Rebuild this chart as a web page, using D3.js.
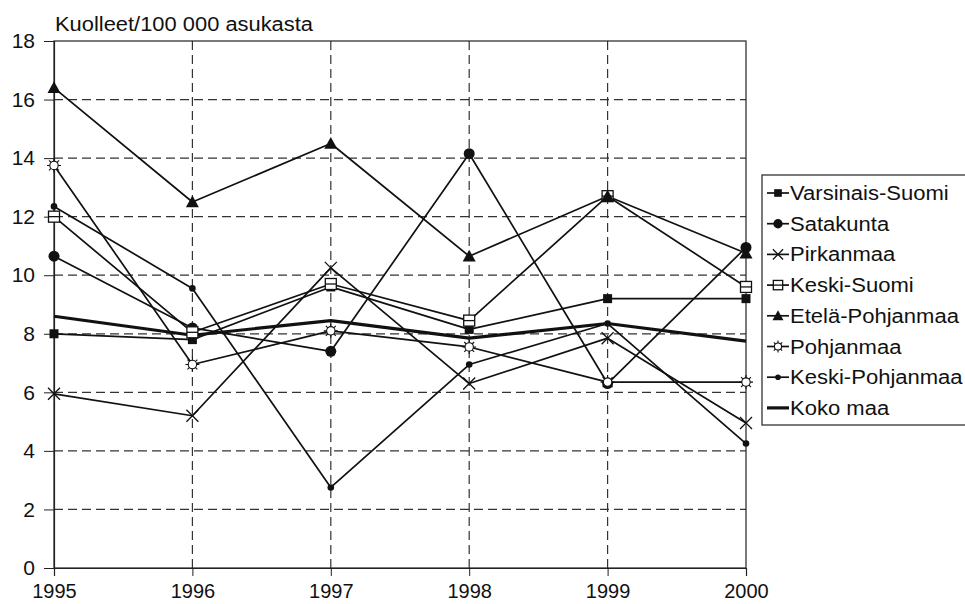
<!DOCTYPE html>
<html><head><meta charset="utf-8">
<script src="https://cdn.jsdelivr.net/npm/d3@7"></script>
<style>body{margin:0;background:#fff}svg{display:block;font-family:"Liberation Sans",Arial,sans-serif}</style>
</head><body><svg id="c" width="965" height="604"></svg>
<script>
const years = [1995, 1996, 1997, 1998, 1999, 2000];
const yTicks = [0, 2, 4, 6, 8, 10, 12, 14, 16, 18];
const yTitle = "Kuolleet/100 000 asukasta";
const seriesNames = ["Varsinais-Suomi", "Satakunta", "Pirkanmaa", "Keski-Suomi", "Etelä-Pohjanmaa", "Pohjanmaa", "Keski-Pohjanmaa", "Koko maa"];
const varsinaisSuomi = [8.0, 7.8, 9.6, 8.15, 9.2, 9.2];
const satakunta = [10.65, 8.2, 7.4, 14.15, 6.3, 10.95];
const pirkanmaa = [5.95, 5.2, 10.25, 6.3, 7.85, 4.95];
const keskiSuomi = [12.0, 8.05, 9.7, 8.45, 12.7, 9.6];
const etelaPohjanmaa = [16.4, 12.5, 14.5, 10.65, 12.7, 10.75];
const pohjanmaa = [13.75, 6.95, 8.1, 7.55, 6.35, 6.35];
const keskiPohjanmaa = [12.35, 9.55, 2.75, 6.95, 8.35, 4.25];
const kokoMaa = [8.6, 7.95, 8.45, 7.85, 8.35, 7.75];
const markers = ["square", "circle", "cross", "openSquare", "triangle", "sun", "dot", "none"];

const allValues = [varsinaisSuomi, satakunta, pirkanmaa, keskiSuomi, etelaPohjanmaa, pohjanmaa, keskiPohjanmaa, kokoMaa];
const series = seriesNames.map((n, i) => ({name: n, values: allValues[i], marker: markers[i]}));

const svg = d3.select("#c");
const L = 54, R = 746, T = 41, B = 568;
const x = d3.scalePoint().domain(years).range([L, R]);
const y = d3.scaleLinear().domain([0, 18]).range([B, T]);
const ink = "#111";

// grid
const g = svg.append("g");
g.selectAll(".hg").data(yTicks.filter(v => v > 0 && v < 18)).enter().append("line")
  .attr("x1", L).attr("x2", R).attr("y1", d => y(d)).attr("y2", d => y(d))
  .attr("stroke", "#333").attr("stroke-width", 1.2).attr("stroke-dasharray", "9,5");
g.selectAll(".vg").data(years.slice(1, -1)).enter().append("line")
  .attr("y1", T).attr("y2", B).attr("x1", d => x(d)).attr("x2", d => x(d))
  .attr("stroke", "#333").attr("stroke-width", 1.2).attr("stroke-dasharray", "9,5");
// frame
g.append("rect").attr("x", L).attr("y", T).attr("width", R - L).attr("height", B - T)
  .attr("fill", "none").attr("stroke", "#222").attr("stroke-width", 1.2);

// y axis
const ya = svg.append("g").attr("transform", `translate(${L},0)`)
  .call(d3.axisLeft(y).tickValues(yTicks).tickSize(10).tickPadding(9));
ya.select(".domain").attr("stroke", "#222").attr("stroke-width", 1.2);
ya.selectAll(".tick line").attr("stroke", "#222");
ya.selectAll("text").attr("font-size", 21).attr("fill", ink).attr("font-family", "Liberation Sans, Arial");

// x axis
const xa = svg.append("g").attr("transform", `translate(0,${B})`)
  .call(d3.axisBottom(x).tickSize(8).tickPadding(8).tickFormat(d3.format("d")));
xa.select(".domain").attr("stroke", "#222").attr("stroke-width", 1.2);
xa.selectAll(".tick line").attr("stroke", "#222");
xa.selectAll("text").attr("font-size", 20).attr("fill", ink).attr("font-family", "Liberation Sans, Arial");

// title
svg.append("text").attr("x", 55).attr("y", 31).attr("font-size", 19.5)
  .attr("textLength", 258).attr("lengthAdjust", "spacingAndGlyphs").attr("fill", ink).text(yTitle);

function drawMarker(sel, type, cx, cy, scale) {
  scale = scale || 1;
  if (type === "square") {
    const s = 9 * scale;
    sel.append("rect").attr("x", cx - s / 2).attr("y", cy - s / 2).attr("width", s).attr("height", s).attr("fill", ink);
  } else if (type === "openSquare") {
    const s = 11 * scale;
    sel.append("rect").attr("x", cx - s / 2).attr("y", cy - s / 2).attr("width", s).attr("height", s)
      .attr("fill", "#fff").attr("stroke", ink).attr("stroke-width", 1.3);
    sel.append("line").attr("x1", cx - s / 2).attr("x2", cx + s / 2).attr("y1", cy).attr("y2", cy).attr("stroke", ink).attr("stroke-width", 1.3);
  } else if (type === "circle") {
    sel.append("circle").attr("cx", cx).attr("cy", cy).attr("r", 5.5 * scale).attr("fill", ink);
  } else if (type === "dot") {
    sel.append("circle").attr("cx", cx).attr("cy", cy).attr("r", 3.3 * scale).attr("fill", ink);
  } else if (type === "triangle") {
    const s = 6.5 * scale;
    sel.append("path").attr("d", `M${cx},${cy - s}L${cx + s},${cy + s * 0.8}L${cx - s},${cy + s * 0.8}Z`).attr("fill", ink);
  } else if (type === "cross") {
    const s = 6 * scale;
    sel.append("path").attr("d", `M${cx - s},${cy - s}L${cx + s},${cy + s}M${cx - s},${cy + s}L${cx + s},${cy - s}`)
      .attr("stroke", ink).attr("stroke-width", 1.3).attr("fill", "none");
  } else if (type === "sun") {
    const s = 7 * scale;
    const p = [];
    for (let k = 0; k < 4; k++) {
      const a = k * Math.PI / 4;
      p.push(`M${cx - s * Math.cos(a)},${cy - s * Math.sin(a)}L${cx + s * Math.cos(a)},${cy + s * Math.sin(a)}`);
    }
    sel.append("path").attr("d", p.join("")).attr("stroke", ink).attr("stroke-width", 1.1);
    sel.append("circle").attr("cx", cx).attr("cy", cy).attr("r", 4.2 * scale).attr("fill", "#fff").attr("stroke", ink).attr("stroke-width", 1.1);
  }
}

const line = d3.line().x((d, i) => x(years[i])).y(d => y(d));
const sg = svg.append("g");
series.forEach(s => {
  sg.append("path").attr("d", line(s.values)).attr("fill", "none").attr("stroke", ink)
    .attr("stroke-width", s.marker === "none" ? 3.2 : 1.7).attr("stroke-linejoin", "round");
});
series.forEach(s => {
  s.values.forEach((v, i) => drawMarker(sg, s.marker, x(years[i]), y(v)));
});

// legend
const lg = svg.append("g");
lg.append("rect").attr("x", 762).attr("y", 175).attr("width", 220).attr("height", 250)
  .attr("fill", "#fff").attr("stroke", "#222").attr("stroke-width", 1.2);
series.forEach((s, i) => {
  const cy = 193 + i * 30.7;
  lg.append("line").attr("x1", 767).attr("x2", 789).attr("y1", cy).attr("y2", cy)
    .attr("stroke", ink).attr("stroke-width", s.marker === "none" ? 3.2 : 1.7);
  drawMarker(lg, s.marker, 778, cy, 0.85);
  lg.append("text").attr("transform", `translate(790,${cy + 7}) scale(1.13,1)`)
    .attr("font-size", 19.5).attr("fill", ink).text(s.name);
});
</script></body></html>
